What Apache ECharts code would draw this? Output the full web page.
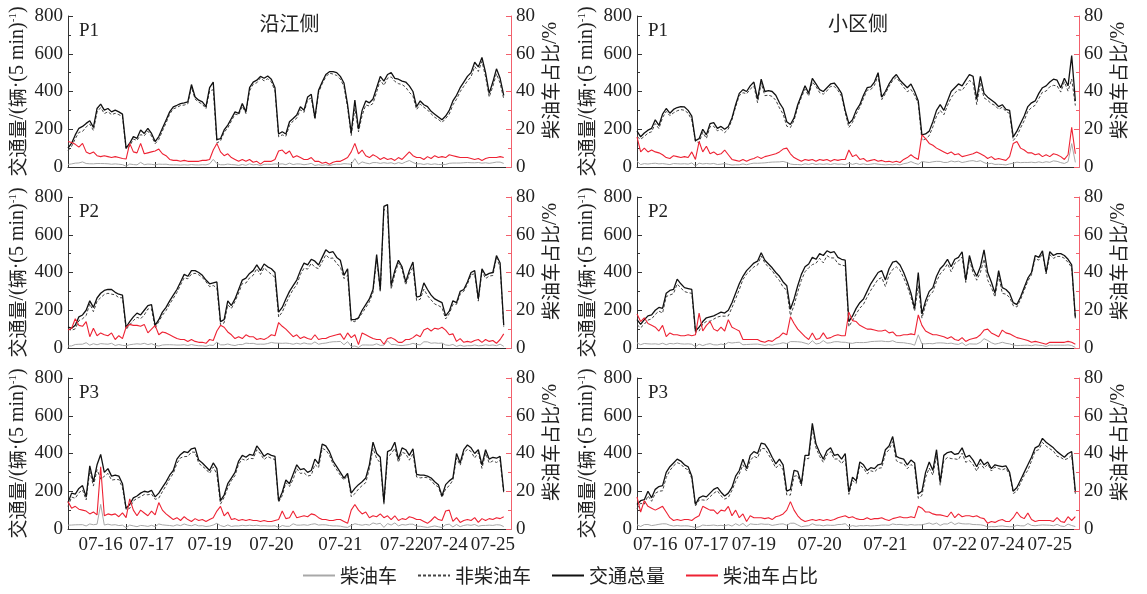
<!DOCTYPE html>
<html>
<head>
<meta charset="utf-8">
<title>交通量与柴油车占比</title>
<script src="https://cdn.jsdelivr.net/npm/echarts@6/dist/echarts.min.js"></script>
<style>
  html, body { margin: 0; background: #fff; }
  #chart { width: 1147px; height: 594px; }
</style>
</head>
<body>
<div id="chart"></div>
<script>
// x axis: one category per sample, day boundaries get a tick
const tickIdx = [16, 24, 41, 58, 78, 96, 103];
const dayLabels = ['07-16', '07-17', '07-19', '07-20', '07-21', '07-22', '07-24', '07-25'];
const labelIdxLeft = [9, 23, 39, 56, 75, 92, 104, 117];
const labelIdxRight = [5, 19, 32, 50, 68, 87, 100, 113];

// 沿江侧 P1
const totalL1 = [100,126,170,205,215,231,245,210,310,333,301,310,292,301,292,280,100,
  126,161,152,196,178,205,178,135,
  161,205,248,292,319,327,336,340,345,437,371,354,345,320,420,450,145,
  150,196,222,257,292,284,336,292,420,450,460,480,470,482,465,420,175,
  187,175,240,257,275,319,301,371,385,260,406,450,490,505,505,500,480,445,330,180,
  355,200,300,350,340,360,420,480,455,490,500,470,465,455,450,430,400,320,
  350,330,320,295,280,265,250,
  270,300,350,380,420,450,480,500,555,530,580,500,390,450,520,470,380];
const ratioL1 = [13.5,13,12,10.5,12.5,8,7,8,6,5.5,6,5.5,5,5.5,5,4.5,4.2,
  12.5,8,7.5,12.5,7,7.5,8,8.5,
  9.5,7,6,4,3.5,3.5,3,3.5,3,3,3,3,3.5,3.5,4,9,12.5,
  8,6,7,5,4,3,4,3,4,2.5,3,1.5,3,3,3,4,8.5,
  9,7,8.5,5,6,5,4,4,5,3,3,2,2.5,1.5,2.5,3,3,4,5,8,
  12.5,7,9,6,5,6.5,5.5,4,5,4,4.5,3.5,5,4,6,8,6,5,
  5,4,5.5,4.5,6,5,5.5,
  5,6.5,6,5.5,5,5,5,4.5,4,4.5,3.5,4.5,5,5,5,5.5,5];

// 小区侧 P1
const totalR1 = [190,160,180,195,205,250,220,280,310,285,305,315,320,318,300,270,140,
  150,200,170,230,235,205,215,200,
  215,260,330,390,410,400,430,450,360,465,400,405,400,380,340,310,240,
  225,260,330,380,430,390,470,440,410,400,420,440,445,420,390,300,230,
  250,300,330,380,420,425,450,500,370,400,440,470,490,460,440,420,440,400,350,170,
  175,190,240,300,330,300,350,400,420,440,430,460,490,480,360,480,390,370,
  355,340,320,330,305,300,160,
  190,230,270,320,340,350,390,420,430,450,465,460,420,470,430,590,350];
const ratioR1 = [16,8,10,8,9,8,7.5,6.5,5,4.5,6,5.5,5,5.5,5,8,4,
  13.5,8,11,7,8,6.5,7,9,
  6.5,4,3.5,3,4,3,4,4.5,5.5,4.5,5.5,6,6.5,7,8,9.5,10,
  7,5,4,3,4,3.5,4,3,4,3.5,4,3,4,3.5,4,4,9,
  5.5,6.5,4,4.5,3,3.5,4,3,3.5,2.8,3,2.5,3,2.4,4,5,6.5,5,4,17,
  15,12.5,11.5,10,9,8,7,8,6.5,7,5.5,6,6.5,7,8,7,6,4.5,
  5.5,4,4.5,4,3.5,5.5,12.5,
  13.5,10,9,7.5,7.5,6.5,7,5.5,6.5,5.5,7,6.5,5.5,4,6.5,21,7];

// 沿江侧 P2
const totalL2 = [110,105,120,165,175,200,250,215,265,290,305,310,310,295,285,280,110,
  140,165,185,175,200,225,230,120,
  150,190,215,250,280,310,350,390,380,410,410,400,385,360,340,345,350,
  140,150,250,225,260,310,360,370,395,410,440,410,445,430,420,400,190,
  215,260,300,330,360,410,450,440,470,460,440,480,520,505,510,480,465,385,420,150,
  150,160,200,230,260,310,495,310,750,760,330,410,465,430,350,410,455,270,
  275,345,310,280,260,250,240,
  170,195,250,240,300,310,350,400,410,260,420,385,395,400,490,450,120];
const ratioL2 = [9.5,10.5,15.5,12,11.5,14,6,10.5,6.5,8,7,6.5,8,4.5,6.5,5,11,
  12.5,12,12,11.5,12.5,8,10,12,
  7,8.5,8,7,6,5,4.5,4.5,3.5,4.5,3.5,3,3,2.5,4.5,4,9,
  12,11,8.5,7,5,6,5,7,6,6,4.5,5,4.5,5.5,7,6.5,13.5,
  11.5,10,8,6,7,5,6,5,4.5,7,4.5,5,5,6,6.5,7,7.5,4.5,8,5.5,
  7,1.8,8,7,6,5,4.5,4.5,2,5,5.5,4.5,3,3,4.5,4.5,5.5,7,
  6,9.5,10.5,9,10.5,10,11,
  9.5,7,7.5,3.5,5,3,3.5,3,4,4.5,3,4.5,3.5,4,2.5,4.5,7.5];

// 小区侧 P2
const totalR2 = [150,125,150,170,175,200,215,210,290,305,310,365,340,320,315,310,90,
  110,140,160,165,170,180,190,185,
  200,240,290,340,380,410,430,450,460,505,465,445,425,400,380,350,330,
  205,260,330,390,430,445,480,470,500,490,515,505,510,480,470,465,140,
  170,210,240,260,300,340,370,400,410,360,420,455,460,440,400,350,290,210,400,180,
  250,300,320,380,420,440,470,430,470,480,510,360,490,420,380,430,520,
  400,350,290,410,320,310,290,
  240,230,270,320,370,400,490,480,515,400,510,490,500,500,490,470,440,160];
const ratioR2 = [18,14,16,13,12,11,9,12,6,8,7,7,6.5,6.5,7,6.5,7,
  18.5,9,12,14,10,9,11,9,
  15,11,10,9,4.5,4.5,4.5,4.5,4.5,3.5,3,4,3.5,5,6,8,7,
  16.5,13,10,8,6,4.5,8,4.5,5,8,5,5.5,6.5,7,6.5,6.5,19,
  14.5,14,12,11,10,10,9.5,9,9,9.5,8,8.5,6.5,6.5,7,7,7.5,7,17.5,12,
  9,8,7,7,6.5,6,5,6,4.5,4,5.5,3.5,4.5,5,5.5,7,9.5,
  10,8,7,6,9.5,8,7.5,
  6.5,5.5,5,4.5,4,3,3.5,3,2.5,2,3,3,3,3,3,3.5,3,2];

// 沿江侧 P3
const totalL3 = [140,190,185,215,230,170,335,250,340,395,300,320,280,285,280,240,110,
  130,165,175,190,200,195,205,170,
  190,220,250,285,310,370,395,410,405,425,430,365,350,330,310,350,320,
  150,180,240,270,300,360,390,380,395,390,440,415,385,400,390,385,150,
  195,260,240,290,340,315,320,300,310,370,345,450,440,410,360,330,300,270,295,190,
  215,235,250,270,340,460,400,380,140,410,420,460,370,430,420,390,425,290,
  285,285,280,270,250,235,175,
  235,255,270,400,350,420,445,430,400,420,340,420,370,380,375,385,200];
const ratioL3 = [14.5,11,12,10.5,10,9.5,8,9,7.5,33,7,8,7.5,8,6.5,8.5,6,
  16,10,7,10,8.5,7,9.5,7.5,
  14,10,8,6.5,5,6,4.5,6.5,5,4,5.5,4.5,5,4,5,6,9.5,
  12,7,9,5,5.5,4.5,5,4.5,5,4.5,4.5,4,4.5,4,4,4.5,5,
  9.5,5.5,6,9.5,6,6.5,7,6.5,8,7.5,6,5,5,4.5,4.5,5,5,4,3,10,
  13,10,8,9,6,7,6.5,8,6,7,5,7,4.5,5.5,5,6.5,6,5,
  5,4,3,4.5,6.5,5,4.5,
  9.5,10,4,6,3.5,4.5,5,4.5,6,3.5,5.5,4.5,5.5,5,6,5.5,6.5];

// 小区侧 P3
const totalR3 = [130,150,155,200,165,210,225,230,300,330,350,370,360,340,330,280,130,
  165,175,170,190,210,220,195,175,
  190,220,280,310,370,320,390,410,400,455,450,420,380,345,370,340,200,
  210,310,305,240,390,390,560,450,405,370,415,430,390,395,370,400,195,
  275,255,355,340,310,325,320,340,345,420,440,490,385,375,370,340,365,350,185,
  200,300,355,310,420,250,390,405,410,395,400,430,380,390,365,330,370,340,
  355,320,340,335,330,335,300,200,
  220,260,300,340,380,430,440,480,460,445,430,410,395,380,400,410,200];
const ratioR3 = [17,9,15,12,11,10,11,12,9,6,4.5,5,4.5,5,5,4.5,6,
  7,12,11,10,10,8,10,9.5,
  12,7,10,6,8,4,7,6,6,6,5.5,6,5,6.5,7,8,10,
  14.5,10,7,5,4,4.5,5,4.5,5,4.5,5,4.5,5,6,6.5,7,6,
  6.5,5.5,5,5,6,5,5.5,5.5,6,5,4.5,5.5,6,6.5,6,6,6.5,6,12,
  11,9,9,8,7.5,7.5,7,6.5,9,6,8,6.5,7,7,6.5,7,6,5.5,
  3,4,3.5,4.5,5,4,4,6,
  9,6.5,5.5,8.5,5,4,4.5,4.5,4.5,4.5,4,6,4,3.5,6.5,4.5,6.5];

const SERIF = '"Liberation Serif", "Times New Roman", serif';
const CJK = '"Noto Sans CJK SC", sans-serif';
const RED = '#ee2233';
const RED_AXIS = '#f2606c';
const INK = '#222';

const panels = [
  { col: 0, row: 0, tag: 'P1', total: totalL1, ratio: ratioL1 },
  { col: 1, row: 0, tag: 'P1', total: totalR1, ratio: ratioR1 },
  { col: 0, row: 1, tag: 'P2', total: totalL2, ratio: ratioL2 },
  { col: 1, row: 1, tag: 'P2', total: totalR2, ratio: ratioR2 },
  { col: 0, row: 2, tag: 'P3', total: totalL3, ratio: ratioL3 },
  { col: 1, row: 2, tag: 'P3', total: totalR3, ratio: ratioR3 }
];

const cols = [
  { left: 68, width: 443, nCat: 123, labelIdx: labelIdxLeft, title: '沿江侧' },
  { left: 637, width: 442, nCat: 122, labelIdx: labelIdxRight, title: '小区侧' }
];
const rowTop = [16, 197, 378];
const rowH = 151;

// rich fragments for the rotated axis names (CJK vs. latin parts)
const nameRich = {
  a: { fontFamily: CJK, fontSize: 19, color: INK },
  b: { fontFamily: SERIF, fontSize: 20, color: INK },
  sup: { fontFamily: SERIF, fontSize: 11, color: INK, verticalAlign: 'top' }
};

const grids = [], xAxes = [], yAxes = [], series = [], graphics = [];

panels.forEach((p, k) => {
  const c = cols[p.col];
  const top = rowTop[p.row];
  const isBottom = p.row === 2;
  grids.push({ left: c.left, top: top, width: c.width, height: rowH, outerBoundsMode: 'none' });

  const cats = Array.from({ length: c.nCat }, (_, i) => String(i));
  xAxes.push({
    type: 'category', gridIndex: k, data: cats, boundaryGap: false,
    axisLine: { lineStyle: { color: '#333', width: 1 } },
    axisTick: { inside: true, length: 5, lineStyle: { color: '#333' },
      interval: (i) => tickIdx.includes(i) },
    axisLabel: {
      show: isBottom, hideOverlap: false, margin: 7,
      interval: (i) => c.labelIdx.includes(i),
      formatter: (v) => {
        const j = c.labelIdx.indexOf(+v);
        return j >= 0 ? dayLabels[j] : '';
      },
      fontFamily: SERIF, fontSize: 19, color: INK
    },
    splitLine: { show: false }
  });

  yAxes.push({
    type: 'value', gridIndex: k, min: 0, max: 800, interval: 200, position: 'left',
    name: '{a|交通量}{b|/(}{a|辆}{b|·(5 min)}{sup|-1}{b|)}',
    nameLocation: 'middle', nameRotate: 90, nameGap: 40,
    nameTextStyle: { rich: nameRich },
    axisLine: { show: true, lineStyle: { color: '#333' } },
    axisTick: { show: true, inside: true, length: 5, lineStyle: { color: '#333' } },
    minorTick: { show: true, splitNumber: 2, length: 3, lineStyle: { color: '#333' } },
    axisLabel: { fontFamily: SERIF, fontSize: 19, color: INK, margin: 5 },
    splitLine: { show: false }
  });
  yAxes.push({
    type: 'value', gridIndex: k, min: 0, max: 80, interval: 20, position: 'right',
    name: '{a|柴油车占比}{b|/%}', nameLocation: 'middle', nameRotate: 90, nameGap: 30,
    nameTextStyle: { rich: nameRich, padding: [0, 0, 0, 22] },
    axisLine: { show: true, lineStyle: { color: RED_AXIS } },
    axisTick: { show: true, inside: true, length: 5, lineStyle: { color: RED_AXIS } },
    minorTick: { show: true, splitNumber: 2, length: 3, lineStyle: { color: RED_AXIS } },
    axisLabel: { fontFamily: SERIF, fontSize: 19, color: INK, margin: 5 },
    splitLine: { show: false }
  });

  // diesel count follows from total and the diesel share
  const diesel = p.total.map((t, i) => +(t * p.ratio[i] / 100).toFixed(1));
  const other = p.total.map((t, i) => +(t - diesel[i]).toFixed(1));
  const base = { type: 'line', xAxisIndex: k, symbol: 'none', showSymbol: false, animation: false };
  series.push(Object.assign({}, base, { name: '柴油车', yAxisIndex: 2 * k, data: diesel, z: 2,
    lineStyle: { color: '#a8a8a8', width: 1 }, itemStyle: { color: '#a8a8a8' } }));
  series.push(Object.assign({}, base, { name: '非柴油车', yAxisIndex: 2 * k, data: other, z: 3,
    lineStyle: { color: '#444', width: 1, type: [3, 2] }, itemStyle: { color: '#444' } }));
  series.push(Object.assign({}, base, { name: '交通总量', yAxisIndex: 2 * k, data: p.total, z: 4,
    lineStyle: { color: '#111', width: 1.3 }, itemStyle: { color: '#111' } }));
  series.push(Object.assign({}, base, { name: '柴油车占比', yAxisIndex: 2 * k + 1, data: p.ratio, z: 5,
    lineStyle: { color: RED, width: 1.1 }, itemStyle: { color: RED } }));

  graphics.push({ type: 'text', x: c.left + 11, y: top + 15,
    style: { text: p.tag, fill: INK, font: '19px ' + SERIF, verticalAlign: 'middle' } });
  if (p.row === 0) {
    graphics.push({ type: 'text', x: c.left + c.width / 2, y: top + 7,
      style: { text: c.title, fill: INK, font: '20px ' + CJK, align: 'center', verticalAlign: 'middle' } });
  }
});

const chart = echarts.init(document.getElementById('chart'), null, { renderer: 'canvas' });
chart.setOption({
  backgroundColor: '#fff',
  animation: false,
  grid: grids,
  xAxis: xAxes,
  yAxis: yAxes,
  series: series,
  graphic: graphics,
  legend: {
    data: ['柴油车', '非柴油车', '交通总量', '柴油车占比'],
    left: 297, bottom: 4,
    itemWidth: 32, itemHeight: 10, itemGap: 20,
    itemStyle: { opacity: 0 },
    textStyle: { fontFamily: CJK, fontSize: 19, color: INK }
  }
});
</script>
</body>
</html>
